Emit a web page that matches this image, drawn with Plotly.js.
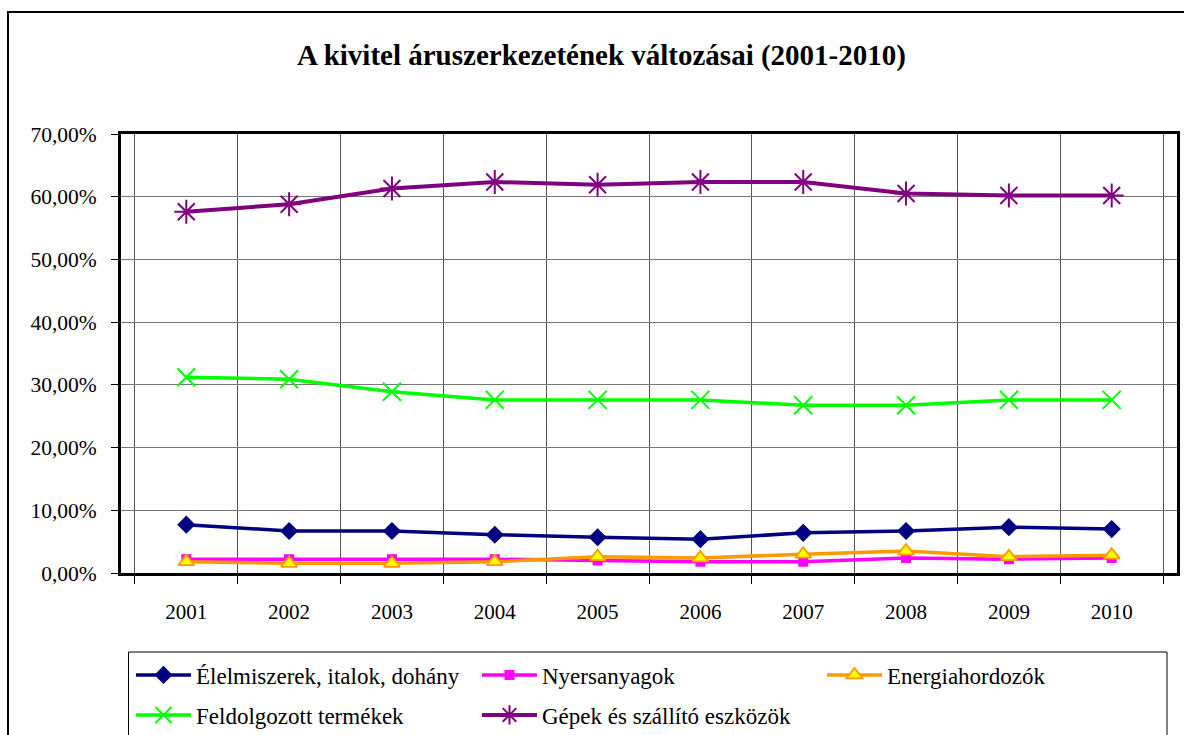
<!DOCTYPE html>
<html>
<head>
<meta charset="utf-8">
<script src="https://cdn.plot.ly/plotly-3.0.1.min.js"></script>
<style>html,body{margin:0;padding:0;background:#fff;}#chart{width:1184px;height:735px;}</style>
</head>
<body>
<div id="chart"></div>
<script>
var years = ['2001','2002','2003','2004','2005','2006','2007','2008','2009','2010'];
var elelmiszerek = [7.7, 6.7, 6.7, 6.1, 5.7, 5.4, 6.4, 6.7, 7.3, 7.0];
var nyersanyagok = [2.2, 2.2, 2.2, 2.2, 2.0, 1.8, 1.8, 2.4, 2.2, 2.4];
var energia = [1.8, 1.55, 1.55, 1.8, 2.6, 2.4, 3.0, 3.5, 2.6, 2.85];
var feldolgozott = [31.2, 30.9, 28.9, 27.6, 27.6, 27.6, 26.75, 26.75, 27.6, 27.6];
var gepek = [57.6, 58.8, 61.3, 62.35, 61.9, 62.35, 62.35, 60.5, 60.2, 60.2];
var names = ['Élelmiszerek, italok, dohány', 'Nyersanyagok', 'Energiahordozók', 'Feldolgozott termékek', 'Gépek és szállító eszközök'];

var L = 121, R = 1177, T = 134, B = 573, W = 1184, H = 735;
function px(x){ return (x - L) / (R - L); }
function py(y){ return (B - y) / (B - T); }

var font = 'Liberation Serif, Times New Roman, serif';

var traces = [
  {x: years, y: elelmiszerek, name: names[0], type: 'scatter', mode: 'lines+markers',
   line: {color: '#000080', width: 3.5}, marker: {symbol: 'diamond', size: 14, color: '#000080'}, legend: 'legend'},
  {x: years, y: nyersanyagok, name: names[1], type: 'scatter', mode: 'lines+markers',
   line: {color: '#FF00FF', width: 3.5}, marker: {symbol: 'square', size: 10, color: '#FF00FF'}, legend: 'legend2'},
  {x: years, y: energia, name: names[2], type: 'scatter', mode: 'lines+markers',
   line: {color: '#FF9900', width: 3.5}, marker: {symbol: 'triangle-up', size: 14, color: '#FFFF00', line: {color: '#FF9900', width: 1.8}}, legend: 'legend3'},
  {x: years, y: feldolgozott, name: names[3], type: 'scatter', mode: 'lines+markers',
   line: {color: '#00FF00', width: 3.5}, marker: {symbol: 'x-thin-open', size: 18, color: '#00FF00', line: {color: '#00FF00', width: 2}}, legend: 'legend4'},
  {x: years, y: gepek, name: names[4], type: 'scatter', mode: 'lines+markers',
   line: {color: '#800080', width: 4}, marker: {symbol: 'asterisk-open', size: 20, color: '#800080', line: {color: '#800080', width: 2}}, legend: 'legend5'}
];

function leg(xpx, ypx){
  return {x: xpx / W, y: 1 - ypx / H, xanchor: 'left', yanchor: 'middle', xref: 'container', yref: 'container',
    bgcolor: 'rgba(0,0,0,0)', borderwidth: 0, itemwidth: 55,
    font: {family: font, size: 23, color: '#000'}, orientation: 'v'};
}

var layout = {
  width: W, height: H,
  margin: {l: L, r: W - R, t: T, b: H - B, pad: 0, autoexpand: false},
  paper_bgcolor: '#fff', plot_bgcolor: '#fff',
  separators: ', ',
  showlegend: true,
  title: {text: '<b>A kivitel áruszerkezetének változásai (2001-2010)</b>',
    font: {family: font, size: 29, color: '#000'},
    x: 601.5 / W, xanchor: 'center', xref: 'container', y: 1 - 55 / H, yanchor: 'middle', yref: 'container'},
  xaxis: {type: 'category', tickson: 'boundaries', ticks: 'outside', ticklen: 8, tickcolor: '#000', tickwidth: 1,
    showgrid: true, gridcolor: '#555', gridwidth: 1, showline: true, linecolor: '#000', linewidth: 3, mirror: true,
    tickfont: {family: font, size: 21, color: '#000'}, ticklabelstandoff: 18, zeroline: false, fixedrange: true},
  yaxis: {range: [0, 70], dtick: 10, tick0: 0, tickformat: '.2f', ticksuffix: '%', ticks: 'outside', ticklen: 7,
    tickcolor: '#000', showgrid: true, gridcolor: '#777', gridwidth: 1, showline: true, linecolor: '#000', linewidth: 3,
    mirror: true, zeroline: false, tickfont: {family: font, size: 21.5, color: '#000'}, ticklabelstandoff: 10, fixedrange: true},
  legend: leg(131, 675),
  legend2: leg(477, 675),
  legend3: leg(822, 675),
  legend4: leg(131, 715),
  legend5: leg(477, 715),
  shapes: [
    {type: 'rect', xref: 'paper', yref: 'paper', x0: px(8), x1: px(1200), y0: py(12), y1: py(760),
     line: {color: '#000', width: 2}, fillcolor: 'rgba(0,0,0,0)', layer: 'below'},
    {type: 'rect', xref: 'paper', yref: 'paper', x0: px(128.5), x1: px(1167), y0: py(652), y1: py(760),
     line: {color: '#000', width: 1}, fillcolor: 'rgba(0,0,0,0)', layer: 'below'}
  ]
};

Plotly.newPlot('chart', traces, layout, {displayModeBar: false, staticPlot: true});
</script>
</body>
</html>
